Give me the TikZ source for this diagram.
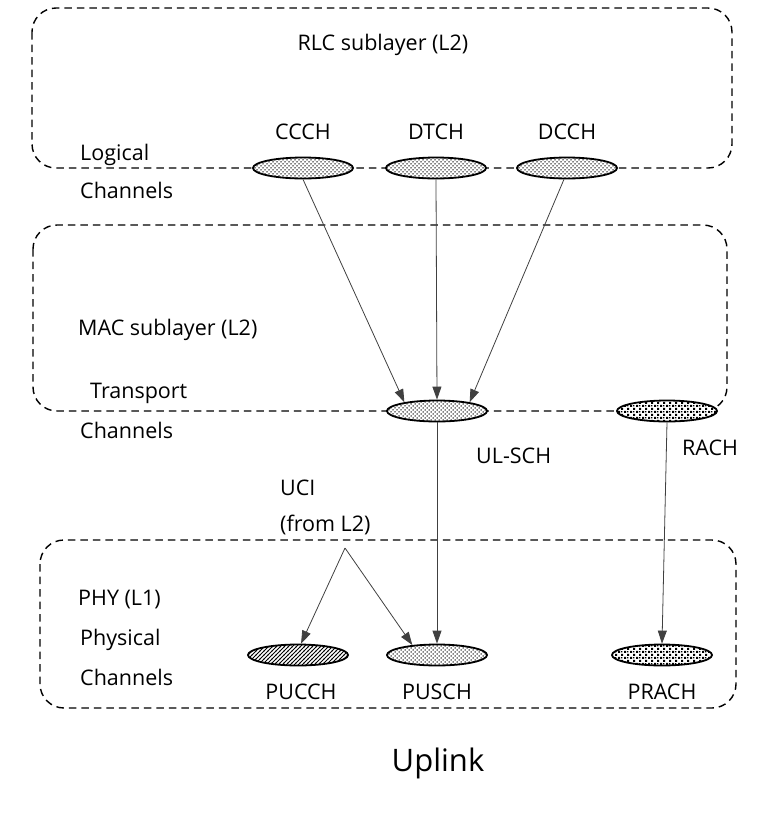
\documentclass[tikz,border=0pt]{standalone}
\usepackage{fontspec}
\setmainfont{Open Sans}
\usetikzlibrary{shapes.geometric,patterns,arrows.meta}
\pgfdeclarepatternformonly{lightdots}{\pgfpoint{-1pt}{-1pt}}{\pgfpoint{5pt}{5pt}}{\pgfpoint{4pt}{4pt}}{%
  \pgfpathcircle{\pgfpoint{1pt}{1pt}}{0.75pt}%
  \pgfpathcircle{\pgfpoint{3pt}{3pt}}{0.75pt}%
  \pgfusepath{fill}}
\pgfdeclarepatternformonly{densedots}{\pgfpoint{-1pt}{-1pt}}{\pgfpoint{7pt}{7pt}}{\pgfpoint{6pt}{6pt}}{%
  \pgfpathrectangle{\pgfpoint{0pt}{0pt}}{\pgfpoint{2.2pt}{2.2pt}}%
  \pgfpathrectangle{\pgfpoint{3pt}{3pt}}{\pgfpoint{2.2pt}{2.2pt}}%
  \pgfpathrectangle{\pgfpoint{3pt}{0.5pt}}{\pgfpoint{1.4pt}{1.4pt}}%
  \pgfusepath{fill}}
\pgfdeclarepatternformonly{hatchlines}{\pgfpoint{-1pt}{-1pt}}{\pgfpoint{5pt}{5pt}}{\pgfpoint{4pt}{4pt}}{%
  \pgfsetlinewidth{0.8pt}%
  \pgfpathmoveto{\pgfpoint{-0.5pt}{-0.5pt}}\pgfpathlineto{\pgfpoint{4.5pt}{4.5pt}}%
  \pgfusepath{stroke}}
\begin{document}
\begin{tikzpicture}[x=1pt,y=-1pt,
  layerbox/.style={draw, dash pattern=on 7.5pt off 5pt, line width=1.4pt, rounded corners=24pt},
  chan/.style={ellipse, draw, line width=1.8pt, minimum width=100pt, minimum height=21pt, inner sep=0pt, preaction={fill=white}},
  lbl/.style={font=\fontsize{21.5}{25}\selectfont, inner sep=0pt},
  conn/.style={draw=black!75, line width=0.8pt, -{Triangle[length=13pt,width=9pt]}}]
\useasboundingbox (0,0) rectangle (763,815);
% boxes
\draw[layerbox] (32,8) rectangle (732,168);
\draw[layerbox] (33,225) rectangle (727,411);
\draw[layerbox] (40,540) rectangle (736,708);
% texts
\node[lbl] (rlc) at (383,45) {RLC sublayer (L2)};
\node[lbl, anchor=west] (logical) at (80,155) {Logical};
\node[lbl, anchor=west] (lch) at (80,190) {Channels};
\node[lbl, anchor=west] (mac) at (78,330) {MAC sublayer (L2)};
\node[lbl, anchor=west] (transport) at (90,393) {Transport};
\node[lbl, anchor=west] (tch) at (80,430) {Channels};
\node[lbl, anchor=west] (phy) at (78,600) {PHY (L1)};
\node[lbl, anchor=west] (physical) at (80,640) {Physical};
\node[lbl, anchor=west] (pch) at (80,677) {Channels};
\node[lbl] (ccchl) at (303,132) {CCCH};
\node[lbl] (dtchl) at (436,132) {DTCH};
\node[lbl] (dcchl) at (567,132) {DCCH};
\node[lbl, anchor=west] (ulschl) at (476,456) {UL-SCH};
\node[lbl, anchor=west] (rachl) at (682,448) {RACH};
\node[lbl, anchor=west] (ucil) at (280,488) {UCI};
\node[lbl, anchor=west] (froml) at (280,525) {(from L2)};
\node[lbl] (pucchl) at (301,692) {PUCCH};
\node[lbl] (puschl) at (437,692) {PUSCH};
\node[lbl] (prachl) at (662,692) {PRACH};
\node[font=\fontsize{31}{36}\selectfont, inner sep=0pt] (uplink) at (438,763) {Uplink};
% channels
\node[chan, pattern=lightdots] (ccch) at (303,168) {};
\node[chan, pattern=lightdots] (dtch) at (436,168) {};
\node[chan, pattern=lightdots] (dcch) at (567,168) {};
\node[chan, pattern=lightdots] (ulsch) at (437,411) {};
\node[chan, pattern=densedots] (rach) at (667,411) {};
\node[chan, pattern=hatchlines] (pucch) at (298,655) {};
\node[chan, pattern=lightdots] (pusch) at (437,655) {};
\node[chan, pattern=densedots] (prach) at (662,655) {};
\coordinate (uci) at (345,548);
% connectors
\draw[conn] (ccch.south) -- (ulsch.165);
\draw[conn] (dtch.south) -- (ulsch.north);
\draw[conn] (dcch.255) -- (ulsch.15);
\draw[conn] (ulsch.south) -- (pusch.north);
\draw[conn] (rach.south) -- (prach.north);
\draw[conn] (uci) -- (pucch.75);
\draw[conn] (uci) -- (pusch.158);
\end{tikzpicture}
\end{document}
